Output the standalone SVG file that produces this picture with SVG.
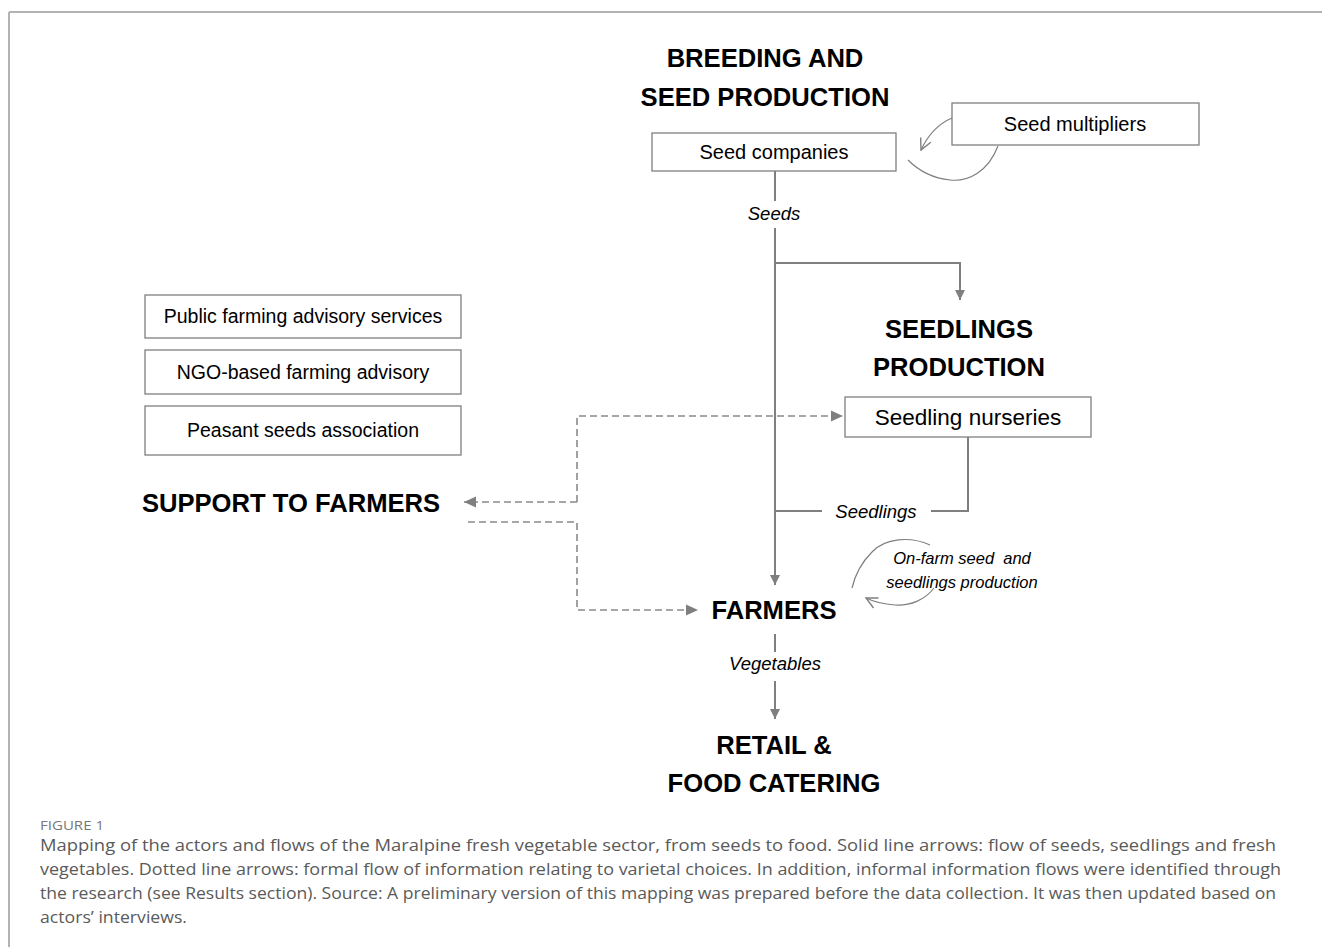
<svg xmlns="http://www.w3.org/2000/svg" width="1322" height="947" viewBox="0 0 1322 947">
<defs>
<marker id="tri" viewBox="0 0 10 10" refX="10" refY="5" markerWidth="10" markerHeight="10" markerUnits="userSpaceOnUse" orient="auto"><path d="M0,0 L10,5 L0,10 z" fill="#7f7f7f"/></marker>
<marker id="tri2" viewBox="0 0 10 10" refX="10" refY="5" markerWidth="12" markerHeight="12" markerUnits="userSpaceOnUse" orient="auto"><path d="M0,0.5 L10,5 L0,9.5 z" fill="#7f7f7f"/></marker>
<marker id="open" viewBox="0 0 10 10" refX="9" refY="5" markerWidth="14" markerHeight="14" markerUnits="userSpaceOnUse" orient="auto"><path d="M1,1 L9,5 L1,9" fill="none" stroke="#7f7f7f" stroke-width="1"/></marker>
</defs>
<style>
.box{fill:#fff;stroke:#7f7f7f;stroke-width:1.3}
.bt{font-family:"Liberation Sans",Arial,sans-serif;font-size:19.5px;fill:#000;text-anchor:middle}
.hd{font-family:"Liberation Sans",Arial,sans-serif;font-size:25.6px;font-weight:bold;fill:#000;text-anchor:middle}
.it{font-family:"Liberation Sans",Arial,sans-serif;font-size:18.5px;font-style:italic;fill:#000;text-anchor:middle}
.solid{fill:none;stroke:#7f7f7f;stroke-width:2}
.dash{fill:none;stroke:#8a8a8a;stroke-width:1.6;stroke-dasharray:7,4}
.curve{fill:none;stroke:#7f7f7f;stroke-width:1.2}
.cap{font-family:"Open Sans",sans-serif;font-size:17px;fill:#5a5a5a}
</style>
<rect width="1322" height="947" fill="#fff"/>
<path d="M9,12 H1322 M9,12 V947" fill="none" stroke="#b3b3b3" stroke-width="2"/>

<g id="connectors">
<path class="solid" d="M775,171 V201"/>
<path class="solid" d="M775,228 V585" marker-end="url(#tri)"/>
<path class="solid" d="M775,263 H960 V300" marker-end="url(#tri)"/>
<path class="solid" d="M968,437 V511 H931"/>
<path class="solid" d="M822,511 H775"/>
<path class="solid" d="M775,634 V652"/>
<path class="solid" d="M775,681 V719" marker-end="url(#tri)"/>
<path class="dash" d="M577,502 V416 H843" marker-end="url(#tri2)"/>
<path class="dash" d="M577,502 H464" marker-end="url(#tri2)"/>
<path class="dash" d="M468,522 H577 V610 H698" marker-end="url(#tri2)"/>
<path class="curve" d="M952,118 C938,124 928,135 921,150" marker-end="url(#open)"/>
<path class="curve" d="M998,146 C988,172 968,182 950,180 C930,178 916,168 908,160"/>
<path class="curve" d="M930,545 C910,536 885,538 872,552 C862,562 855,575 852,588"/>
<path class="curve" d="M934,588 C925,600 910,606 895,605 C882,604 874,602 866,598" marker-end="url(#open)"/>
</g>

<g id="breeding"><text class="hd" x="765" y="67">BREEDING AND</text><text class="hd" x="765" y="106">SEED PRODUCTION</text></g>
<g id="seed-companies"><rect class="box" x="652" y="133" width="244" height="38"/><text class="bt" x="774" y="159" style="font-size:20px">Seed companies</text></g>
<g id="seed-multipliers"><rect class="box" x="952" y="103" width="247" height="42"/><text class="bt" x="1075" y="131" style="font-size:20px">Seed multipliers</text></g>
<g id="seeds-label"><text class="it" x="774" y="220">Seeds</text></g>
<g id="seedlings-production"><text class="hd" x="959" y="338">SEEDLINGS</text><text class="hd" x="959" y="376">PRODUCTION</text></g>
<g id="seedling-nurseries"><rect class="box" x="845" y="397" width="246" height="40"/><text class="bt" x="968" y="425" style="font-size:22.5px">Seedling nurseries</text></g>
<g id="seedlings-label"><text class="it" x="876" y="518">Seedlings</text></g>
<g id="public"><rect class="box" x="145" y="295" width="316" height="43"/><text class="bt" x="303" y="323">Public farming advisory services</text></g>
<g id="ngo"><rect class="box" x="145" y="350" width="316" height="44"/><text class="bt" x="303" y="379">NGO-based farming advisory</text></g>
<g id="peasant"><rect class="box" x="145" y="406" width="316" height="49"/><text class="bt" x="303" y="437">Peasant seeds association</text></g>
<g id="support"><text class="hd" x="291" y="512">SUPPORT TO FARMERS</text></g>
<g id="farmers"><text class="hd" x="774" y="619">FARMERS</text></g>
<g id="onfarm"><text class="it" x="962" y="564" style="font-size:16.5px" xml:space="preserve">On-farm seed  and</text><text class="it" x="962" y="588" style="font-size:16.5px">seedlings production</text></g>
<g id="vegetables-label"><text class="it" x="775" y="670">Vegetables</text></g>
<g id="retail"><text class="hd" x="774" y="754">RETAIL &amp;</text><text class="hd" x="774" y="792">FOOD CATERING</text></g>

<g id="caption">
<text class="cap" x="40" y="830" style="font-size:12.5px;fill:#777" textLength="64" lengthAdjust="spacingAndGlyphs">FIGURE 1</text>
<text class="cap" x="40" y="851" textLength="1236" lengthAdjust="spacingAndGlyphs">Mapping of the actors and flows of the Maralpine fresh vegetable sector, from seeds to food. Solid line arrows: flow of seeds, seedlings and fresh</text>
<text class="cap" x="40" y="875" textLength="1241" lengthAdjust="spacingAndGlyphs">vegetables. Dotted line arrows: formal flow of information relating to varietal choices. In addition, informal information flows were identified through</text>
<text class="cap" x="40" y="899" textLength="1236" lengthAdjust="spacingAndGlyphs">the research (see Results section). Source: A preliminary version of this mapping was prepared before the data collection. It was then updated based on</text>
<text class="cap" x="40" y="923" textLength="147" lengthAdjust="spacingAndGlyphs">actors’ interviews.</text>
</g>
</svg>
